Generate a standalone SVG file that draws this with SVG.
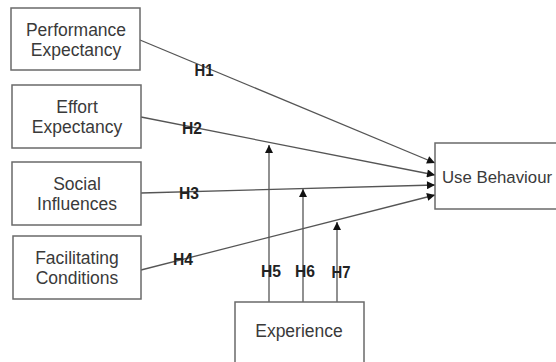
<svg xmlns="http://www.w3.org/2000/svg" width="556" height="362" viewBox="0 0 556 362">
<style>
.box{fill:#fff;stroke:#6a6a6a;stroke-width:1.5}
.t{font-family:"Liberation Sans",Arial,sans-serif;font-size:17.5px;fill:#3a3a3a;text-anchor:middle}
.c{stroke:#555;stroke-width:1.3;fill:none}
.h{font-family:"Liberation Sans",Arial,sans-serif;font-size:17px;font-weight:bold;fill:#222;text-anchor:middle}
</style>
<defs>
<marker id="ah" viewBox="0 0 10 10" refX="10" refY="5" markerWidth="9" markerHeight="8" markerUnits="userSpaceOnUse" orient="auto">
<path d="M0,0 L10,5 L0,10 Z" fill="#111"/>
</marker>
</defs>
<rect width="556" height="362" fill="#fff"/>
<g id="connectors">
<line class="c" x1="140" y1="40" x2="435" y2="163" marker-end="url(#ah)"/>
<line class="c" x1="141" y1="117" x2="435" y2="175" marker-end="url(#ah)"/>
<line class="c" x1="141" y1="193" x2="435" y2="185" marker-end="url(#ah)"/>
<line class="c" x1="141" y1="270" x2="435" y2="195" marker-end="url(#ah)"/>
<line class="c" x1="269" y1="302" x2="269" y2="145" marker-end="url(#ah)"/>
<line class="c" x1="303" y1="302" x2="303" y2="189" marker-end="url(#ah)"/>
<line class="c" x1="337" y1="302" x2="337" y2="222" marker-end="url(#ah)"/>
<text class="h" x="204" y="76" textLength="19" lengthAdjust="spacingAndGlyphs">H1</text>
<text class="h" x="192" y="134" textLength="20" lengthAdjust="spacingAndGlyphs">H2</text>
<text class="h" x="189" y="199" textLength="20" lengthAdjust="spacingAndGlyphs">H3</text>
<text class="h" x="183" y="265" textLength="20" lengthAdjust="spacingAndGlyphs">H4</text>
<text class="h" x="271" y="277" textLength="20" lengthAdjust="spacingAndGlyphs">H5</text>
<text class="h" x="305" y="277" textLength="20" lengthAdjust="spacingAndGlyphs">H6</text>
<text class="h" x="341" y="278" textLength="19" lengthAdjust="spacingAndGlyphs">H7</text>
</g>
<g id="performance">
<rect class="box" x="11" y="8" width="129" height="62"/>
<text class="t" x="76" y="36">Performance</text>
<text class="t" x="76" y="56">Expectancy</text>
</g>
<g id="effort">
<rect class="box" x="12" y="85" width="129" height="63"/>
<text class="t" x="77" y="113">Effort</text>
<text class="t" x="77" y="133">Expectancy</text>
</g>
<g id="social">
<rect class="box" x="12" y="162" width="129" height="63"/>
<text class="t" x="77" y="190">Social</text>
<text class="t" x="77" y="210">Influences</text>
</g>
<g id="facilitating">
<rect class="box" x="13" y="236" width="128" height="63"/>
<text class="t" x="77" y="264">Facilitating</text>
<text class="t" x="77" y="284">Conditions</text>
</g>
<g id="usebehaviour">
<rect class="box" x="435" y="143" width="130" height="66"/>
<text class="t" x="442" y="183" style="text-anchor:start;font-size:16.8px">Use Behaviour</text>
</g>
<g id="experience">
<rect class="box" x="235" y="302" width="129" height="70"/>
<text class="t" x="299" y="337">Experience</text>
</g>
</svg>
